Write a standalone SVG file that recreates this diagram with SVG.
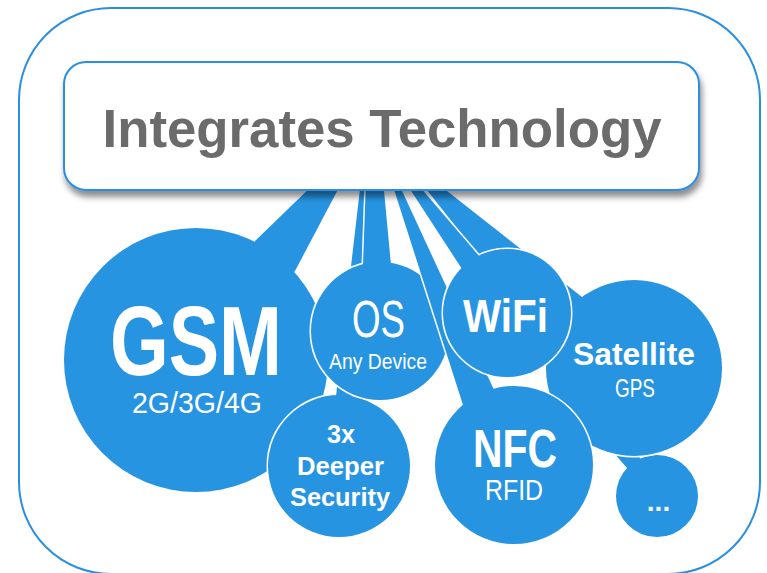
<svg xmlns="http://www.w3.org/2000/svg" width="767" height="573" viewBox="0 0 767 573">
<defs>
<style>
.o{fill:#2794e2;stroke:#fff;stroke-width:3;stroke-linejoin:round}
.f{fill:#2794e2}
.t{fill:#fff;font-family:"Liberation Sans",Arial,sans-serif;text-anchor:middle}
.b{font-weight:bold}
</style>
<filter id="sh" x="-5%" y="-10%" width="115%" height="140%">
<feDropShadow dx="2" dy="6" stdDeviation="3" flood-color="#000" flood-opacity="0.45"/>
</filter>
</defs>
<rect x="19" y="8" width="741" height="566" rx="92" fill="#fff" stroke="#2a8fe0" stroke-width="2"/>

<g id="more">
<g class="o"><polygon points="571,404 627,468 657,496 640,458"/><circle cx="657" cy="496" r="41"/></g>
<g class="f"><polygon points="571,404 627,468 657,496 640,458"/><circle cx="657" cy="496" r="41"/></g>
<text class="t b" x="658.5" y="511" font-size="28">...</text>
</g>

<g id="gsm">
<g class="o"><polygon points="318,180 343,180 295,271 196,360 255,241"/><circle cx="196" cy="360" r="132"/></g>
<g class="f"><polygon points="318,180 343,180 295,271 196,360 255,241"/><circle cx="196" cy="360" r="132"/></g>
<text class="t b" x="196" y="375" font-size="98" textLength="172" lengthAdjust="spacingAndGlyphs">GSM</text>
<text class="t" x="197" y="413" font-size="29" textLength="130" lengthAdjust="spacingAndGlyphs">2G/3G/4G</text>
</g>

<g id="security">
<g class="o"><polygon points="361,180 374,180 352,400 339,466 336,396"/><circle cx="339" cy="466" r="71"/></g>
<g class="f"><polygon points="361,180 374,180 352,400 339,466 336,396"/><circle cx="339" cy="466" r="71"/></g>
<text class="t b" x="341" y="443" font-size="25" textLength="28" lengthAdjust="spacingAndGlyphs">3x</text>
<text class="t b" x="340.5" y="475" font-size="26" textLength="87" lengthAdjust="spacingAndGlyphs">Deeper</text>
<text class="t b" x="340" y="506" font-size="26" textLength="100" lengthAdjust="spacingAndGlyphs">Security</text>
</g>

<g id="os">
<g class="o"><polygon points="366,180 383,180 391,265 380,331 363,265"/><circle cx="380" cy="331" r="69"/></g>
<g class="f"><polygon points="366,180 383,180 391,265 380,331 363,265"/><circle cx="380" cy="331" r="69"/></g>
<text class="t" x="378.5" y="337" font-size="51" textLength="53" lengthAdjust="spacingAndGlyphs">OS</text>
<text class="t" x="378" y="369" font-size="22" textLength="98" lengthAdjust="spacingAndGlyphs">Any Device</text>
</g>

<g id="satellite">
<g class="o"><polygon points="419,180 433,180 582,297 634,368 550,346"/><circle cx="634" cy="368" r="88"/></g>
<g class="f"><polygon points="419,180 433,180 582,297 634,368 550,346"/><circle cx="634" cy="368" r="88"/></g>
<text class="t b" x="634" y="365" font-size="31" textLength="122" lengthAdjust="spacingAndGlyphs">Satellite</text>
<text class="t" x="635" y="397" font-size="26" textLength="40" lengthAdjust="spacingAndGlyphs">GPS</text>
</g>

<g id="nfc">
<g class="o"><polygon points="391,180 397,180 495,392 514,465 463,405"/><circle cx="514" cy="465" r="79"/></g>
<g class="f"><polygon points="391,180 397,180 495,392 514,465 463,405"/><circle cx="514" cy="465" r="79"/></g>
<text class="t b" x="515" y="467" font-size="54" textLength="84" lengthAdjust="spacingAndGlyphs">NFC</text>
<text class="t" x="514" y="500" font-size="30" textLength="58" lengthAdjust="spacingAndGlyphs">RFID</text>
</g>

<g id="wifi">
<g class="o"><polygon points="404,180 414,180 480,257 507,313 462,269"/><circle cx="507" cy="313" r="64"/></g>
<g class="f"><polygon points="404,180 414,180 480,257 507,313 462,269"/><circle cx="507" cy="313" r="64"/></g>
<text class="t b" x="505.5" y="332" font-size="46" textLength="85" lengthAdjust="spacingAndGlyphs">WiFi</text>
</g>

<g id="box">
<rect x="64" y="62" width="635" height="128" rx="22" fill="#fff" stroke="#2a8fe0" stroke-width="2" filter="url(#sh)"/>
<text x="382" y="147" font-family="'Liberation Sans',Arial,sans-serif" font-weight="bold" font-size="54" fill="#6b6b6b" text-anchor="middle" textLength="559" lengthAdjust="spacingAndGlyphs">Integrates Technology</text>
</g>
</svg>
